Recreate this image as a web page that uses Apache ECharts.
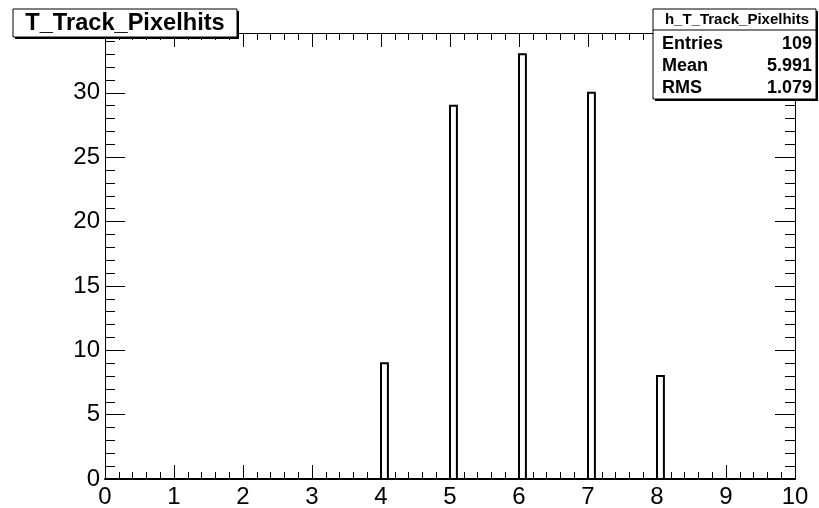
<!DOCTYPE html>
<html>
<head>
<meta charset="utf-8">
<script src="https://cdn.jsdelivr.net/npm/echarts@6/dist/echarts.min.js"></script>
<style>
  html, body { margin: 0; padding: 0; background: #fff; }
  #chart { width: 819px; height: 508px; }
</style>
</head>
<body>
<div id="chart"></div>
<script>
// Histogram h_T_Track_Pixelhits: 100 bins of width 0.1 over [0, 10]
const binWidth = 0.1;
const binLow = [4.0, 5.0, 6.0, 7.0, 8.0];
const binCount = [9, 29, 33, 30, 8];

const xRange = [0, 10];
const yMax = 34.65;          // 1.05 x highest bin
const yMajorStep = 5;
const xMajorStep = 1;

const titleText = 'T_Track_Pixelhits';
const statsName = 'h_T_Track_Pixelhits';
const statsLabels = ['Entries', 'Mean', 'RMS'];
const statsValues = ['109', '5.991', '1.079'];

const FONT = '"Liberation Sans", Arial, Helvetica, sans-serif';

const chart = echarts.init(document.getElementById('chart'), null, { renderer: 'canvas' });

const binData = binLow.map((x, i) => [x, binCount[i]]);

function xAxisDef(pos, withLabels) {
  return {
    type: 'value', position: pos, min: xRange[0], max: xRange[1], interval: xMajorStep,
    axisLine: { show: true, onZero: false, lineStyle: { color: '#000', width: pos === 'bottom' ? 2 : 1 } },
    axisTick: { show: true, inside: true, length: 14, lineStyle: { color: '#000', width: 1 } },
    minorTick: { show: true, splitNumber: 5, length: 7, lineStyle: { color: '#000', width: 1 } },
    axisLabel: withLabels ? { show: true, color: '#000', fontSize: 24, fontFamily: FONT, margin: 6 } : { show: false },
    splitLine: { show: false }
  };
}

function yAxisDef(pos, step, tickLen, withLabels) {
  return {
    type: 'value', position: pos, min: 0, max: yMax, interval: step,
    axisLine: { show: true, onZero: false, lineStyle: { color: '#000', width: 1 } },
    axisTick: { show: true, inside: true, length: tickLen, lineStyle: { color: '#000', width: 1 } },
    axisLabel: withLabels ? {
      show: true, color: '#000', fontSize: 24, fontFamily: FONT, margin: 5, showMaxLabel: false,
      formatter: v => (Math.abs(v / yMajorStep - Math.round(v / yMajorStep)) < 1e-6 ? String(Math.round(v)) : '')
    } : { show: false },
    splitLine: { show: false }
  };
}

const option = {
  backgroundColor: '#fff',
  animation: false,
  grid: { left: 105, right: 24, top: 33, bottom: 29, containLabel: false, outerBoundsMode: 'none' },
  xAxis: [xAxisDef('bottom', true), xAxisDef('top', false)],
  yAxis: [
    yAxisDef('left', yMajorStep, 20, true),
    yAxisDef('left', 1, 10, false),
    yAxisDef('right', yMajorStep, 20, false),
    yAxisDef('right', 1, 10, false)
  ],
  series: [{
    type: 'custom',
    xAxisIndex: 0,
    yAxisIndex: 0,
    data: binData,
    clip: true,
    renderItem: function (params, api) {
      const x0 = api.value(0);
      const n = api.value(1);
      const p0 = api.coord([x0, 0]);
      const p1 = api.coord([x0 + binWidth, n]);
      return {
        type: 'polyline',
        shape: { points: [[p0[0], p0[1]], [p0[0], p1[1]], [p1[0], p1[1]], [p1[0], p0[1]]] },
        style: { stroke: '#000', lineWidth: 2, fill: null }
      };
    }
  }],
  graphic: [
    // title box with drop shadow
    { type: 'rect', shape: { x: 15, y: 11, width: 224, height: 28 }, style: { fill: '#000' }, z: 10 },
    { type: 'rect', shape: { x: 13, y: 9, width: 224, height: 28 }, style: { fill: '#fff', stroke: '#000', lineWidth: 1 }, z: 11 },
    { type: 'text', x: 125, y: 23.5, z: 12,
      style: { text: titleText, font: 'bold 23.6px ' + FONT, fill: '#000', align: 'center', verticalAlign: 'middle' } },

    // statistics box with drop shadow
    { type: 'rect', shape: { x: 655, y: 11, width: 163, height: 90 }, style: { fill: '#000' }, z: 10 },
    { type: 'rect', shape: { x: 653, y: 9, width: 163, height: 90 }, style: { fill: '#fff', stroke: '#000', lineWidth: 1 }, z: 11 },
    { type: 'line', shape: { x1: 653, y1: 30, x2: 816, y2: 30 }, style: { stroke: '#000', lineWidth: 1 }, z: 12 },
    { type: 'text', x: 737, y: 20, z: 12,
      style: { text: statsName, font: 'bold 15px ' + FONT, fill: '#000', align: 'center', verticalAlign: 'middle' } }
  ].concat(statsLabels.map((lab, i) => ({
    type: 'text', x: 662, y: 44 + i * 22, z: 12,
    style: { text: lab, font: 'bold 18px ' + FONT, fill: '#000', align: 'left', verticalAlign: 'middle' }
  }))).concat(statsValues.map((val, i) => ({
    type: 'text', x: 812, y: 44 + i * 22, z: 12,
    style: { text: val, font: 'bold 18px ' + FONT, fill: '#000', align: 'right', verticalAlign: 'middle' }
  })))
};

chart.setOption(option);
</script>
</body>
</html>
